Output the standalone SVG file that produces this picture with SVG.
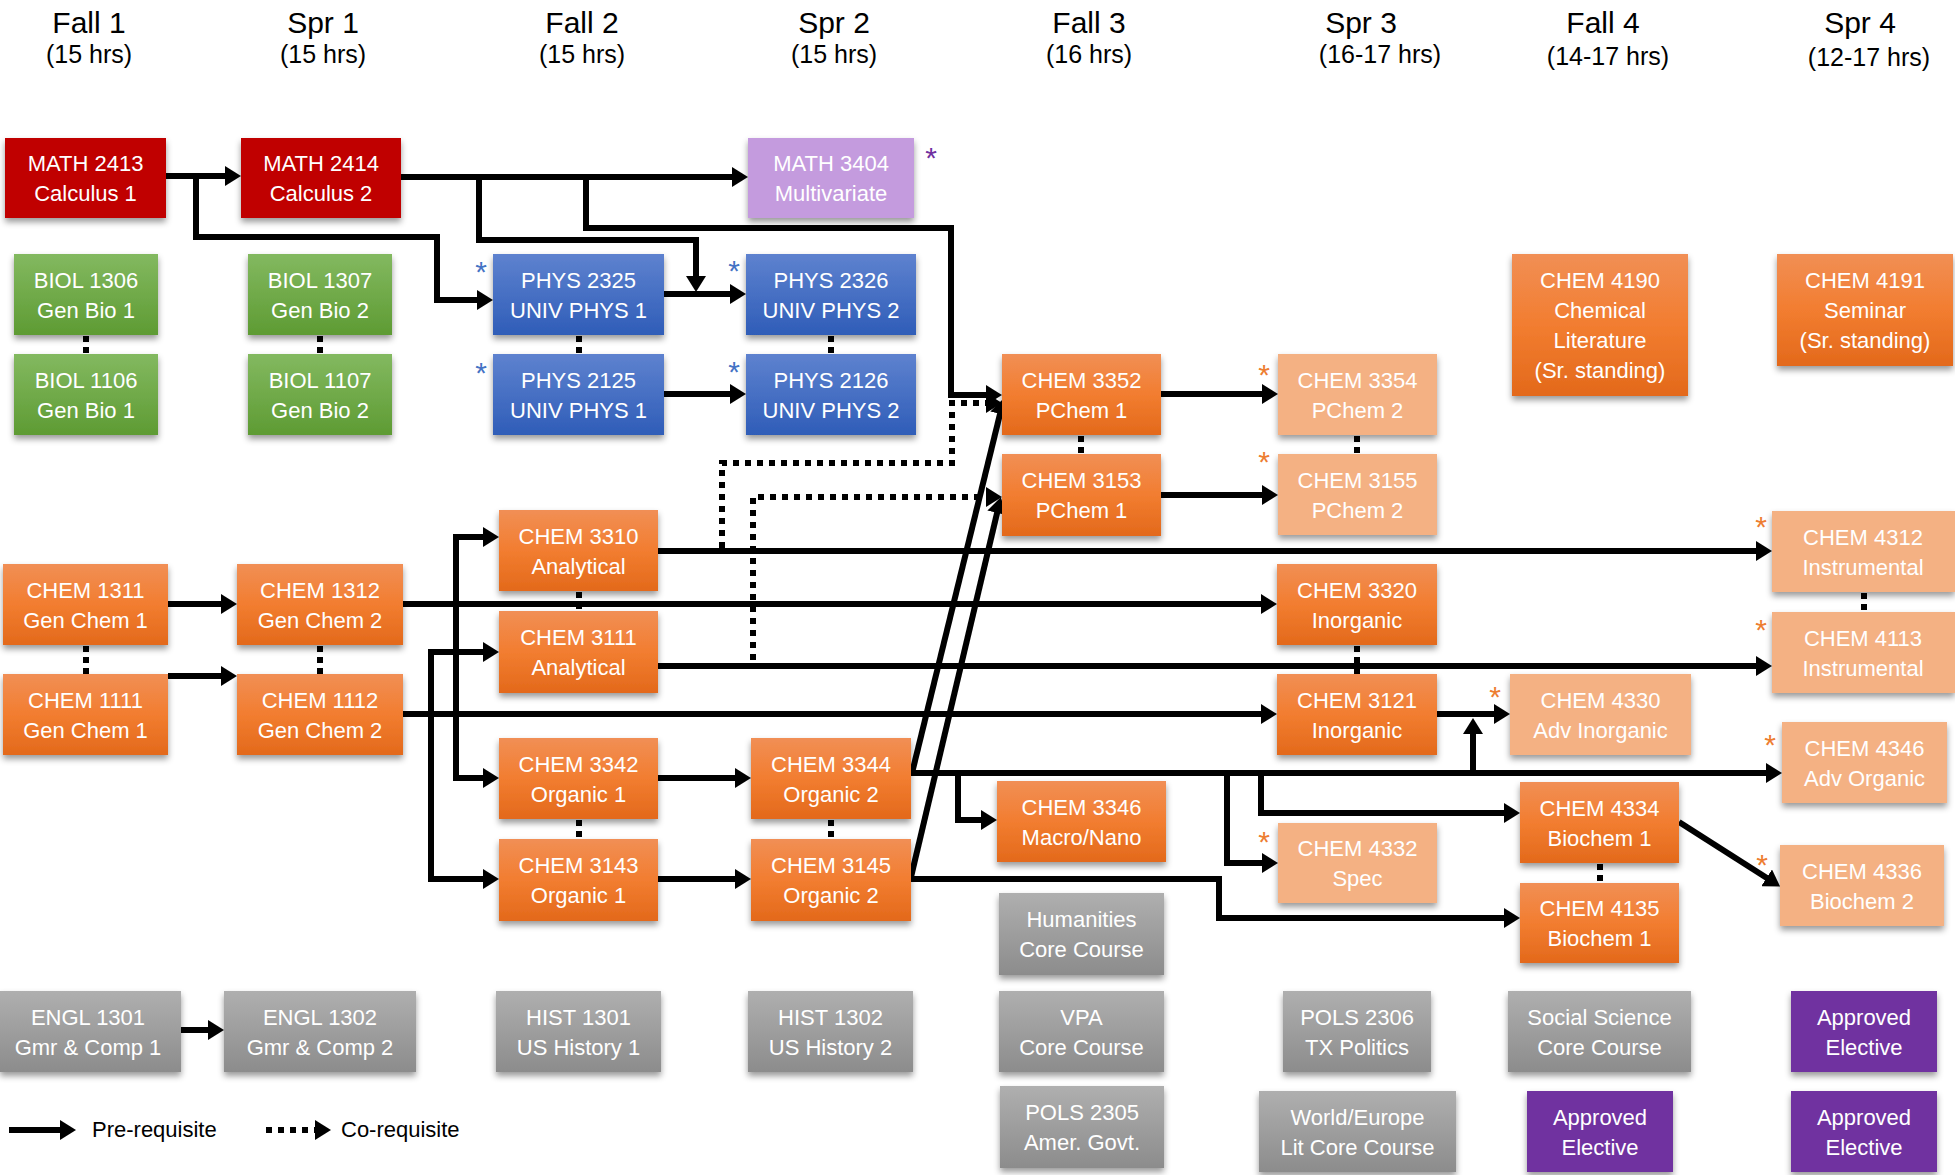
<svg xmlns="http://www.w3.org/2000/svg" width="1955" height="1175" viewBox="0 0 1955 1175">
<style>
.h{font-family:"Liberation Sans",Arial,sans-serif;font-size:30px;fill:#000;text-anchor:middle}
.hs{font-family:"Liberation Sans",Arial,sans-serif;font-size:25px;fill:#000;text-anchor:middle}
.t{font-family:"Liberation Sans",Arial,sans-serif;font-size:22px;fill:#fff;text-anchor:middle}
.lg{font-family:"Liberation Sans",Arial,sans-serif;font-size:22px;fill:#000}
.st{font-family:"Liberation Sans",Arial,sans-serif;font-size:30px;text-anchor:middle}
.so{fill:#ED7D31}.sb{fill:#4472C4}.sp{fill:#7030A0}
.or{fill:url(#gOr)}.lo{fill:#F4B183}.gr{fill:url(#gGr)}.bl{fill:url(#gBl)}.gy{fill:url(#gGy)}
.rd{fill:#C00000}.pu{fill:#7030A0}.lp{fill:#C49BDE}
rect{filter:url(#sh)}
.c{fill:none;stroke:#000;stroke-width:6;marker-end:url(#ah)}
.d{fill:none;stroke:#000;stroke-width:6;stroke-dasharray:6 6;marker-end:url(#ah)}
.s{fill:none;stroke:#000;stroke-width:6;stroke-dasharray:6 5}
</style>
<defs>
<linearGradient id="gOr" x1="0" y1="0" x2="0" y2="1"><stop offset="0" stop-color="#F18F55"/><stop offset="0.5" stop-color="#F27D30"/><stop offset="1" stop-color="#E3691B"/></linearGradient>
<linearGradient id="gGr" x1="0" y1="0" x2="0" y2="1"><stop offset="0" stop-color="#83B960"/><stop offset="1" stop-color="#5E9B33"/></linearGradient>
<linearGradient id="gBl" x1="0" y1="0" x2="0" y2="1"><stop offset="0" stop-color="#5E82CF"/><stop offset="1" stop-color="#2F5DB8"/></linearGradient>
<linearGradient id="gGy" x1="0" y1="0" x2="0" y2="1"><stop offset="0" stop-color="#AFAFAF"/><stop offset="1" stop-color="#8C8C8C"/></linearGradient>
<filter id="sh" x="-10%" y="-10%" width="125%" height="135%"><feDropShadow dx="0" dy="4" stdDeviation="3" flood-color="#000" flood-opacity="0.4"/></filter>
<marker id="ah" viewBox="0 0 16 20" refX="4" refY="10" markerWidth="16" markerHeight="20" markerUnits="userSpaceOnUse" orient="auto"><path d="M0,0 L16,10 L0,20 z" fill="#000"/></marker>
</defs>
<rect width="1955" height="1175" fill="#fff" style="filter:none"/>

<g id="headers">
<text class="h" x="89" y="33">Fall 1</text><text class="hs" x="89" y="63">(15 hrs)</text>
<text class="h" x="323" y="33">Spr 1</text><text class="hs" x="323" y="63">(15 hrs)</text>
<text class="h" x="582" y="33">Fall 2</text><text class="hs" x="582" y="63">(15 hrs)</text>
<text class="h" x="834" y="33">Spr 2</text><text class="hs" x="834" y="63">(15 hrs)</text>
<text class="h" x="1089" y="33">Fall 3</text><text class="hs" x="1089" y="63">(16 hrs)</text>
<text class="h" x="1361" y="33">Spr 3</text><text class="hs" x="1380" y="63">(16-17 hrs)</text>
<text class="h" x="1603" y="33">Fall 4</text><text class="hs" x="1608" y="65">(14-17 hrs)</text>
<text class="h" x="1860" y="33">Spr 4</text><text class="hs" x="1869" y="66">(12-17 hrs)</text>
</g>

<g id="connectors">
<path class="c" d="M166,176 H229"/>
<path class="c" d="M196,176 V237 H437 V300 H481"/>
<path class="c" d="M401,177 H736"/>
<path class="c" d="M479,177 V240 H696 V280"/>
<path class="c" d="M586,177 V228 H951 V395 H990"/>
<path class="c" d="M664,294 H734"/>
<path class="c" d="M664,394 H734"/>
<path class="c" d="M168,604 H225"/>
<path class="c" d="M168,676 H225"/>
<path class="c" d="M403,604 H1265"/>
<path class="c" d="M456,604 V537 H487"/>
<path class="c" d="M456,604 V778 H487"/>
<path class="c" d="M403,714 H1265"/>
<path class="c" d="M431,714 V652 H487"/>
<path class="c" d="M431,714 V879 H487"/>
<path class="c" d="M658,551 H1760"/>
<path class="c" d="M658,666 H1760"/>
<path class="c" d="M658,778 H739"/>
<path class="c" d="M658,879 H739"/>
<path class="c" d="M911,773 H1770"/>
<path class="c" d="M958,773 V820 H985"/>
<path class="c" d="M1227,773 V863 H1266"/>
<path class="c" d="M1261,773 V813 H1508"/>
<path class="c" d="M1473,773 V730"/>
<path class="c" d="M1437,714 H1498"/>
<path class="c" d="M911,879 H1219 V918 H1508"/>
<path class="c" d="M1161,394 H1266"/>
<path class="c" d="M1161,495 H1266"/>
<path class="c" d="M1679,822 L1770,880"/>
<path class="c" d="M912,773 L1001,410"/>
<path class="c" d="M911,877 L998,509"/>
<path class="d" d="M722,548 V463 H952 V403 H990"/>
<path class="d" d="M753,660 V497 H990"/>
<path class="c" d="M181,1030 H212"/>
<path class="s" d="M86,336 V354"/>
<path class="s" d="M320,336 V354"/>
<path class="s" d="M579,336 V354"/>
<path class="s" d="M831,336 V354"/>
<path class="s" d="M1081,436 V454"/>
<path class="s" d="M1357,436 V454"/>
<path class="s" d="M86,646 V674"/>
<path class="s" d="M320,646 V674"/>
<path class="s" d="M579,592 V611"/>
<path class="s" d="M1357,646 V674"/>
<path class="s" d="M579,820 V839"/>
<path class="s" d="M831,820 V839"/>
<path class="s" d="M1864,593 V612"/>
<path class="s" d="M1600,864 V883"/>
</g>

<g id="math2413"><rect class="rd" x="5" y="138" width="161" height="80"/><text class="t" x="85.5" y="171">MATH 2413</text><text class="t" x="85.5" y="201">Calculus 1</text></g>
<g id="math2414"><rect class="rd" x="241" y="138" width="160" height="80"/><text class="t" x="321" y="171">MATH 2414</text><text class="t" x="321" y="201">Calculus 2</text></g>
<g id="math3404"><rect class="lp" x="748" y="138" width="166" height="80"/><text class="t" x="831" y="171">MATH 3404</text><text class="t" x="831" y="201">Multivariate</text><text class="st sp" x="931" y="168">*</text></g>

<g id="biol1306"><rect class="gr" x="14" y="254" width="144" height="81"/><text class="t" x="86" y="288">BIOL 1306</text><text class="t" x="86" y="318">Gen Bio 1</text></g>
<g id="biol1106"><rect class="gr" x="14" y="354" width="144" height="81"/><text class="t" x="86" y="388">BIOL 1106</text><text class="t" x="86" y="418">Gen Bio 1</text></g>
<g id="biol1307"><rect class="gr" x="248" y="254" width="144" height="81"/><text class="t" x="320" y="288">BIOL 1307</text><text class="t" x="320" y="318">Gen Bio 2</text></g>
<g id="biol1107"><rect class="gr" x="248" y="354" width="144" height="81"/><text class="t" x="320" y="388">BIOL 1107</text><text class="t" x="320" y="418">Gen Bio 2</text></g>

<g id="phys2325"><rect class="bl" x="493" y="254" width="171" height="81"/><text class="t" x="578.5" y="288">PHYS 2325</text><text class="t" x="578.5" y="318">UNIV PHYS 1</text><text class="st sb" x="481" y="282">*</text></g>
<g id="phys2326"><rect class="bl" x="746" y="254" width="170" height="81"/><text class="t" x="831" y="288">PHYS 2326</text><text class="t" x="831" y="318">UNIV PHYS 2</text><text class="st sb" x="734" y="281">*</text></g>
<g id="phys2125"><rect class="bl" x="493" y="354" width="171" height="81"/><text class="t" x="578.5" y="388">PHYS 2125</text><text class="t" x="578.5" y="418">UNIV PHYS 1</text><text class="st sb" x="481" y="383">*</text></g>
<g id="phys2126"><rect class="bl" x="746" y="354" width="170" height="81"/><text class="t" x="831" y="388">PHYS 2126</text><text class="t" x="831" y="418">UNIV PHYS 2</text><text class="st sb" x="734" y="382">*</text></g>

<g id="chem4190"><rect class="or" x="1512" y="254" width="176" height="142"/><text class="t" x="1600" y="288">CHEM 4190</text><text class="t" x="1600" y="318">Chemical</text><text class="t" x="1600" y="348">Literature</text><text class="t" x="1600" y="378">(Sr. standing)</text></g>
<g id="chem4191"><rect class="or" x="1777" y="254" width="176" height="112"/><text class="t" x="1865" y="288">CHEM 4191</text><text class="t" x="1865" y="318">Seminar</text><text class="t" x="1865" y="348">(Sr. standing)</text></g>

<g id="chem3352"><rect class="or" x="1002" y="354" width="159" height="81"/><text class="t" x="1081.5" y="388">CHEM 3352</text><text class="t" x="1081.5" y="418">PChem 1</text></g>
<g id="chem3153"><rect class="or" x="1002" y="454" width="159" height="82"/><text class="t" x="1081.5" y="488">CHEM 3153</text><text class="t" x="1081.5" y="518">PChem 1</text></g>
<g id="chem3354"><rect class="lo" x="1278" y="354" width="159" height="81"/><text class="t" x="1357.5" y="388">CHEM 3354</text><text class="t" x="1357.5" y="418">PChem 2</text><text class="st so" x="1264" y="385">*</text></g>
<g id="chem3155"><rect class="lo" x="1278" y="454" width="159" height="81"/><text class="t" x="1357.5" y="488">CHEM 3155</text><text class="t" x="1357.5" y="518">PChem 2</text><text class="st so" x="1264" y="472">*</text></g>

<g id="chem3310"><rect class="or" x="499" y="510" width="159" height="81"/><text class="t" x="578.5" y="544">CHEM 3310</text><text class="t" x="578.5" y="574">Analytical</text></g>
<g id="chem3111"><rect class="or" x="499" y="611" width="159" height="82"/><text class="t" x="578.5" y="645">CHEM 3111</text><text class="t" x="578.5" y="675">Analytical</text></g>
<g id="chem1311"><rect class="or" x="3" y="564" width="165" height="81"/><text class="t" x="85.5" y="598">CHEM 1311</text><text class="t" x="85.5" y="628">Gen Chem 1</text></g>
<g id="chem1111"><rect class="or" x="3" y="674" width="165" height="81"/><text class="t" x="85.5" y="708">CHEM 1111</text><text class="t" x="85.5" y="738">Gen Chem 1</text></g>
<g id="chem1312"><rect class="or" x="237" y="564" width="166" height="81"/><text class="t" x="320" y="598">CHEM 1312</text><text class="t" x="320" y="628">Gen Chem 2</text></g>
<g id="chem1112"><rect class="or" x="237" y="674" width="166" height="81"/><text class="t" x="320" y="708">CHEM 1112</text><text class="t" x="320" y="738">Gen Chem 2</text></g>
<g id="chem3320"><rect class="or" x="1277" y="564" width="160" height="81"/><text class="t" x="1357" y="598">CHEM 3320</text><text class="t" x="1357" y="628">Inorganic</text></g>
<g id="chem3121"><rect class="or" x="1277" y="674" width="160" height="81"/><text class="t" x="1357" y="708">CHEM 3121</text><text class="t" x="1357" y="738">Inorganic</text></g>
<g id="chem4312"><rect class="lo" x="1772" y="511" width="183" height="81"/><text class="t" x="1863" y="545">CHEM 4312</text><text class="t" x="1863" y="575">Instrumental</text><text class="st so" x="1761" y="537">*</text></g>
<g id="chem4113"><rect class="lo" x="1772" y="612" width="183" height="81"/><text class="t" x="1863" y="646">CHEM 4113</text><text class="t" x="1863" y="676">Instrumental</text><text class="st so" x="1761" y="640">*</text></g>
<g id="chem4330"><rect class="lo" x="1510" y="674" width="181" height="81"/><text class="t" x="1600.5" y="708">CHEM 4330</text><text class="t" x="1600.5" y="738">Adv Inorganic</text><text class="st so" x="1495" y="707">*</text></g>
<g id="chem4346"><rect class="lo" x="1782" y="722" width="165" height="81"/><text class="t" x="1864.5" y="756">CHEM 4346</text><text class="t" x="1864.5" y="786">Adv Organic</text><text class="st so" x="1770" y="755">*</text></g>

<g id="chem3342"><rect class="or" x="499" y="738" width="159" height="81"/><text class="t" x="578.5" y="772">CHEM 3342</text><text class="t" x="578.5" y="802">Organic 1</text></g>
<g id="chem3344"><rect class="or" x="751" y="738" width="160" height="81"/><text class="t" x="831" y="772">CHEM 3344</text><text class="t" x="831" y="802">Organic 2</text></g>
<g id="chem3143"><rect class="or" x="499" y="839" width="159" height="82"/><text class="t" x="578.5" y="873">CHEM 3143</text><text class="t" x="578.5" y="903">Organic 1</text></g>
<g id="chem3145"><rect class="or" x="751" y="839" width="160" height="82"/><text class="t" x="831" y="873">CHEM 3145</text><text class="t" x="831" y="903">Organic 2</text></g>
<g id="chem3346"><rect class="or" x="997" y="781" width="169" height="81"/><text class="t" x="1081.5" y="815">CHEM 3346</text><text class="t" x="1081.5" y="845">Macro/Nano</text></g>
<g id="chem4332"><rect class="lo" x="1278" y="823" width="159" height="80"/><text class="t" x="1357.5" y="856">CHEM 4332</text><text class="t" x="1357.5" y="886">Spec</text><text class="st so" x="1264" y="852">*</text></g>
<g id="chem4334"><rect class="or" x="1520" y="782" width="159" height="81"/><text class="t" x="1599.5" y="816">CHEM 4334</text><text class="t" x="1599.5" y="846">Biochem 1</text></g>
<g id="chem4135"><rect class="or" x="1520" y="883" width="159" height="80"/><text class="t" x="1599.5" y="916">CHEM 4135</text><text class="t" x="1599.5" y="946">Biochem 1</text></g>
<g id="chem4336"><rect class="lo" x="1780" y="845" width="164" height="81"/><text class="t" x="1862" y="879">CHEM 4336</text><text class="t" x="1862" y="909">Biochem 2</text><text class="st so" x="1762" y="875">*</text></g>

<g id="humanities"><rect class="gy" x="999" y="893" width="165" height="82"/><text class="t" x="1081.5" y="927">Humanities</text><text class="t" x="1081.5" y="957">Core Course</text></g>
<g id="engl1301"><rect class="gy" x="0" y="991" width="181" height="81"/><text class="t" x="88" y="1025">ENGL 1301</text><text class="t" x="88" y="1055">Gmr &amp; Comp 1</text></g>
<g id="engl1302"><rect class="gy" x="224" y="991" width="192" height="81"/><text class="t" x="320" y="1025">ENGL 1302</text><text class="t" x="320" y="1055">Gmr &amp; Comp 2</text></g>
<g id="hist1301"><rect class="gy" x="496" y="991" width="165" height="81"/><text class="t" x="578.5" y="1025">HIST 1301</text><text class="t" x="578.5" y="1055">US History 1</text></g>
<g id="hist1302"><rect class="gy" x="748" y="991" width="165" height="81"/><text class="t" x="830.5" y="1025">HIST 1302</text><text class="t" x="830.5" y="1055">US History 2</text></g>
<g id="vpa"><rect class="gy" x="999" y="991" width="165" height="81"/><text class="t" x="1081.5" y="1025">VPA</text><text class="t" x="1081.5" y="1055">Core Course</text></g>
<g id="pols2306"><rect class="gy" x="1283" y="991" width="148" height="81"/><text class="t" x="1357" y="1025">POLS 2306</text><text class="t" x="1357" y="1055">TX Politics</text></g>
<g id="socsci"><rect class="gy" x="1508" y="991" width="183" height="81"/><text class="t" x="1599.5" y="1025">Social Science</text><text class="t" x="1599.5" y="1055">Core Course</text></g>
<g id="elective1"><rect class="pu" x="1791" y="991" width="146" height="81"/><text class="t" x="1864" y="1025">Approved</text><text class="t" x="1864" y="1055">Elective</text></g>
<g id="pols2305"><rect class="gy" x="1000" y="1086" width="164" height="82"/><text class="t" x="1082" y="1120">POLS 2305</text><text class="t" x="1082" y="1150">Amer. Govt.</text></g>
<g id="worldlit"><rect class="gy" x="1259" y="1091" width="197" height="81"/><text class="t" x="1357.5" y="1125">World/Europe</text><text class="t" x="1357.5" y="1155">Lit Core Course</text></g>
<g id="elective2"><rect class="pu" x="1527" y="1091" width="146" height="81"/><text class="t" x="1600" y="1125">Approved</text><text class="t" x="1600" y="1155">Elective</text></g>
<g id="elective3"><rect class="pu" x="1791" y="1091" width="146" height="81"/><text class="t" x="1864" y="1125">Approved</text><text class="t" x="1864" y="1155">Elective</text></g>

<g id="legend">
<path class="c" d="M9,1130 H64"/>
<text class="lg" x="92" y="1137">Pre-requisite</text>
<path class="d" d="M266,1130 H319"/>
<text class="lg" x="341" y="1137">Co-requisite</text>
</g>
</svg>
